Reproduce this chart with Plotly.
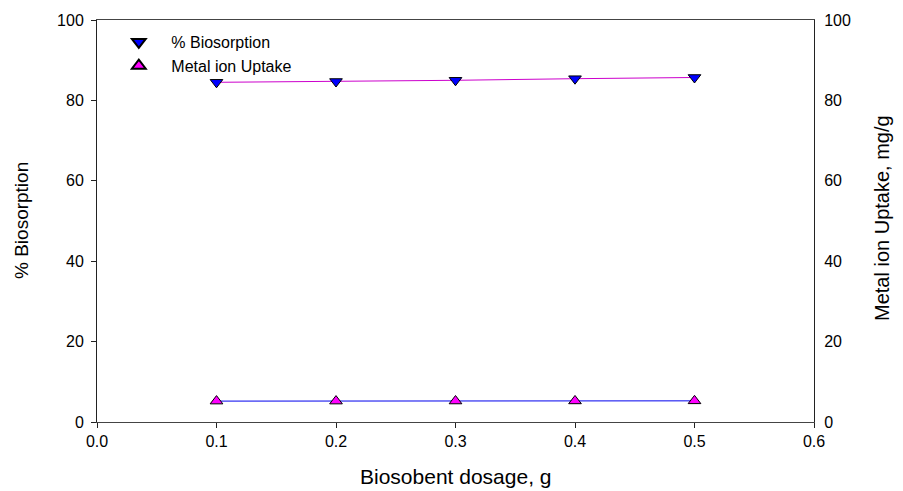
import plotly.graph_objects as go

dosage = [0.1, 0.2, 0.3, 0.4, 0.5]
biosorption = [84.5, 84.7, 85.0, 85.4, 85.7]
uptake = [5.2, 5.2, 5.22, 5.24, 5.26]

x_ticks = [0.0, 0.1, 0.2, 0.3, 0.4, 0.5, 0.6]
y_ticks = [0, 20, 40, 60, 80, 100]

x_title = "Biosobent dosage, g"
y_title = "% Biosorption"
y2_title = "Metal ion Uptake, mg/g"

font_family = "Liberation Sans, Arial, sans-serif"

# the page body adds an 8px offset; target plot area in window: x 97..814, y 20..422
OFF = 8
W, H = 903, 491
ML, MT = 97 - OFF, 20 - OFF
PW, PH = 717, 402
MR, MB = W - ML - PW, H - MT - PH


def px_to_paper_x(px):
    return (px - OFF - ML) / PW


def px_to_paper_y(py):
    return (MT + PH - (py - OFF)) / PH


fig = go.Figure()
fig.add_trace(go.Scatter(
    x=dosage, y=biosorption, mode="lines+markers", showlegend=False,
    line=dict(color="#cc00cc", width=1),
    marker=dict(symbol="triangle-down", size=11, color="#0000ff",
                line=dict(color="black", width=1)),
))
fig.add_trace(go.Scatter(
    x=dosage, y=uptake, mode="lines+markers", showlegend=False, yaxis="y2",
    line=dict(color="#0000ee", width=1),
    marker=dict(symbol="triangle-up", size=11, color="#ff00ff",
                line=dict(color="black", width=1)),
))
# legend entries (markers only)
fig.add_trace(go.Scatter(
    x=[None], y=[None], mode="markers", name="% Biosorption",
    marker=dict(symbol="triangle-down", size=11, color="#0000ff",
                line=dict(color="black", width=1)),
))
fig.add_trace(go.Scatter(
    x=[None], y=[None], mode="markers", name="Metal ion Uptake",
    marker=dict(symbol="triangle-up", size=11, color="#ff00ff",
                line=dict(color="black", width=1)),
))

annotations = [
    dict(text=x_title, xref="paper", yref="paper",
         x=0.5, y=px_to_paper_y(476),
         xanchor="center", yanchor="middle", showarrow=False,
         font=dict(size=21)),
    dict(text=y_title, xref="paper", yref="paper",
         x=px_to_paper_x(21), y=0.5, textangle=-90,
         xanchor="center", yanchor="middle", showarrow=False,
         font=dict(size=19)),
    dict(text=y2_title, xref="paper", yref="paper",
         x=px_to_paper_x(882), y=px_to_paper_y(218), textangle=-90,
         xanchor="center", yanchor="middle", showarrow=False,
         font=dict(size=20)),
]

fig.update_layout(
    width=W, height=H,
    margin=dict(l=ML, r=MR, t=MT, b=MB, autoexpand=False),
    paper_bgcolor="white", plot_bgcolor="white",
    font=dict(family=font_family, size=16, color="black"),
    showlegend=True,
    legend=dict(x=0.013, y=px_to_paper_y(25), xanchor="left", yanchor="top",
                bgcolor="rgba(0,0,0,0)", font=dict(size=16),
                itemsizing="constant", itemwidth=55, tracegroupgap=0),
    annotations=annotations,
    xaxis=dict(
        range=[0, 0.6], tickvals=x_ticks,
        ticktext=[f"{v:.1f}" for v in x_ticks],
        showgrid=False, zeroline=False, automargin=False,
        showline=True, linecolor="#444", linewidth=1, mirror=True,
        ticks="outside", ticklen=5, tickcolor="#222",
    ),
    yaxis=dict(
        range=[0, 100], tickvals=y_ticks,
        showgrid=False, zeroline=False, automargin=False,
        showline=True, linecolor="#222", linewidth=1,
        ticks="outside", ticklen=5, tickcolor="#222",
        ticklabelstandoff=4,
    ),
    yaxis2=dict(
        range=[0, 100], tickvals=y_ticks, overlaying="y", side="right",
        showgrid=False, zeroline=False, automargin=False,
        showline=True, linecolor="#222", linewidth=1,
        ticks="", ticklabelstandoff=6,
    ),
)

fig.write_html("out.html")
